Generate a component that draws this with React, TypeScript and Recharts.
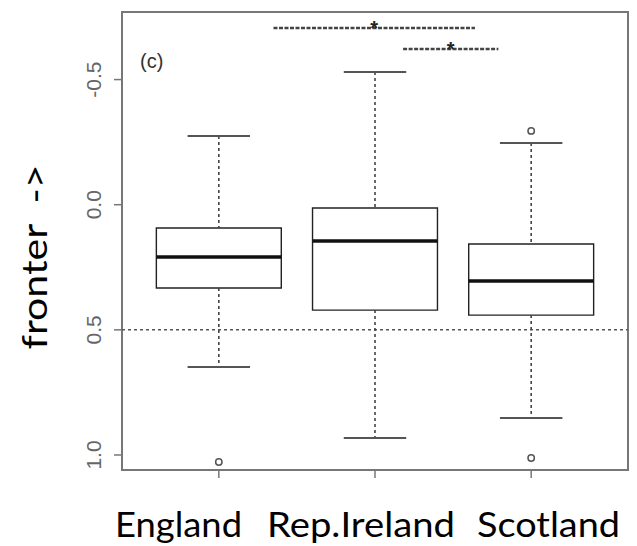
import {
  ComposedChart,
  XAxis,
  YAxis,
  Scatter,
  ReferenceArea,
  ReferenceLine,
  ReferenceDot,
} from 'recharts';

// box statistics per country (y axis runs downward: negative = higher up)
const groups = ['England', 'Rep.Ireland', 'Scotland'];
const positions = [1, 2, 3];
const whiskerTop = [-0.275, -0.53, -0.247];
const boxTop = [0.093, 0.013, 0.157];
const medians = [0.209, 0.145, 0.305];
const boxBottom = [0.333, 0.421, 0.441];
const whiskerBottom = [0.648, 0.932, 0.852];
const outlierX = [1, 3, 3];
const outlierY = [1.028, -0.295, 1.012];

// significance brackets across the top
const sigFrom = [1.35, 2.18];
const sigTo = [2.64, 2.79];
const sigLevel = [-0.706, -0.622];

const yTicks = [-0.5, 0, 0.5, 1];
const xDomain: [number, number] = [0.38, 3.62];
const yDomain: [number, number] = [-0.77, 1.06];
const refLevel = 0.5;

const outliers = outlierX.map((x, i) => ({ x, y: outlierY[i] }));

const BOX_HALF = 0.4;
const CAP_HALF = 0.2;
const INK = '#222';
const GREY = '#555';

const YTick = (props: any) => {
  const { x, y, payload } = props;
  const v = Number(payload.value);
  return (
    <text
      x={x}
      y={y}
      transform={`rotate(-90, ${x}, ${y})`}
      textAnchor="middle"
      fontFamily="Liberation Sans, Arial, sans-serif"
      fontSize={21}
      fill="#666"
    >
      {v.toFixed(1)}
    </text>
  );
};

const Star = (props: any) => (
  <text
    x={props.cx}
    y={props.cy + 7}
    textAnchor="middle"
    fontFamily="Liberation Sans, Arial, sans-serif"
    fontWeight="bold"
    fontSize={20}
    fill="#222"
  >
    *
  </text>
);

const Outlier = (props: any) => (
  <circle cx={props.cx} cy={props.cy} r={3.2} fill="none" stroke={GREY} strokeWidth={1.5} />
);

const labelX = [115, 267, 477];
const labelLen = [127, 188, 143];

export default function App() {
  return (
    <div style={{ position: 'absolute', left: 0, top: 0, width: 637, height: 546, background: '#fff' }}>
      <ComposedChart
        width={637}
        height={546}
        margin={{ top: 12, right: 9, bottom: 46, left: 82 }}
      >
        <XAxis
          type="number"
          dataKey="x"
          domain={xDomain}
          ticks={positions}
          allowDataOverflow
          axisLine={false}
          tickSize={8}
          tickLine={{ stroke: '#777', strokeWidth: 1.5 }}
          tick={() => <g />}
          height={30}
        />
        <YAxis
          type="number"
          dataKey="y"
          domain={yDomain}
          ticks={yTicks}
          reversed
          allowDataOverflow
          axisLine={false}
          tickSize={8}
          tickMargin={13}
          tickLine={{ stroke: '#777', strokeWidth: 1.5 }}
          tick={<YTick />}
          width={40}
        />

        <ReferenceLine y={refLevel} stroke={GREY} strokeWidth={1.5} strokeDasharray="3 3" />

        {positions.map((p, i) => (
          <ReferenceLine
            key={`wt-${i}`}
            segment={[{ x: p, y: whiskerTop[i] }, { x: p, y: boxTop[i] }]}
            stroke="#444"
            strokeWidth={1.6}
            strokeDasharray="3 3"
          />
        ))}
        {positions.map((p, i) => (
          <ReferenceLine
            key={`wb-${i}`}
            segment={[{ x: p, y: boxBottom[i] }, { x: p, y: whiskerBottom[i] }]}
            stroke="#444"
            strokeWidth={1.6}
            strokeDasharray="3 3"
          />
        ))}
        {positions.map((p, i) => (
          <ReferenceLine
            key={`ct-${i}`}
            segment={[{ x: p - CAP_HALF, y: whiskerTop[i] }, { x: p + CAP_HALF, y: whiskerTop[i] }]}
            stroke={GREY}
            strokeWidth={2}
          />
        ))}
        {positions.map((p, i) => (
          <ReferenceLine
            key={`cb-${i}`}
            segment={[{ x: p - CAP_HALF, y: whiskerBottom[i] }, { x: p + CAP_HALF, y: whiskerBottom[i] }]}
            stroke={GREY}
            strokeWidth={2}
          />
        ))}
        {positions.map((p, i) => (
          <ReferenceArea
            key={`box-${i}`}
            x1={p - BOX_HALF}
            x2={p + BOX_HALF}
            y1={boxTop[i]}
            y2={boxBottom[i]}
            fill="#fff"
            fillOpacity={1}
            stroke={INK}
            strokeWidth={1.4}
          />
        ))}
        {positions.map((p, i) => (
          <ReferenceLine
            key={`med-${i}`}
            segment={[{ x: p - BOX_HALF, y: medians[i] }, { x: p + BOX_HALF, y: medians[i] }]}
            stroke="#111"
            strokeWidth={3.5}
          />
        ))}

        {sigFrom.map((f, i) => (
          <ReferenceLine
            key={`sig-${i}`}
            segment={[{ x: f, y: sigLevel[i] }, { x: sigTo[i], y: sigLevel[i] }]}
            stroke="#444"
            strokeWidth={2.5}
            strokeDasharray="4 1.5"
          />
        ))}
        {sigFrom.map((f, i) => (
          <ReferenceDot
            key={`star-${i}`}
            x={(f + sigTo[i]) / 2}
            y={sigLevel[i]}
            r={3}
            shape={<Star />}
          />
        ))}

        <Scatter data={outliers} shape={<Outlier />} isAnimationActive={false} />

        {/* plot frame */}
        <ReferenceArea
          x1={xDomain[0]}
          x2={xDomain[1]}
          y1={yDomain[0]}
          y2={yDomain[1]}
          fill="none"
          stroke="#777"
          strokeWidth={2}
          ifOverflow="visible"
        />
      </ComposedChart>

      <svg
        width={637}
        height={546}
        style={{ position: 'absolute', left: 0, top: 0, pointerEvents: 'none' }}
      >
        <text x={140} y={68} fontFamily="Liberation Sans, Arial, sans-serif" fontSize={20} fill="#333">
          (c)
        </text>
        <text
          x={47}
          y={257}
          transform="rotate(-90, 47, 257)"
          textAnchor="middle"
          fontFamily="Lato, sans-serif"
          fontSize={35}
          fill="#000"
          textLength={185}
          lengthAdjust="spacingAndGlyphs"
        >
          {'fronter\u00a0\u00a0->'}
        </text>
        {groups.map((g, i) => (
          <text
            key={g}
            x={labelX[i]}
            y={537}
            fontFamily="Lato, sans-serif"
            fontSize={35}
            fill="#000"
            textLength={labelLen[i]}
            lengthAdjust="spacingAndGlyphs"
          >
            {g}
          </text>
        ))}
      </svg>
    </div>
  );
}
